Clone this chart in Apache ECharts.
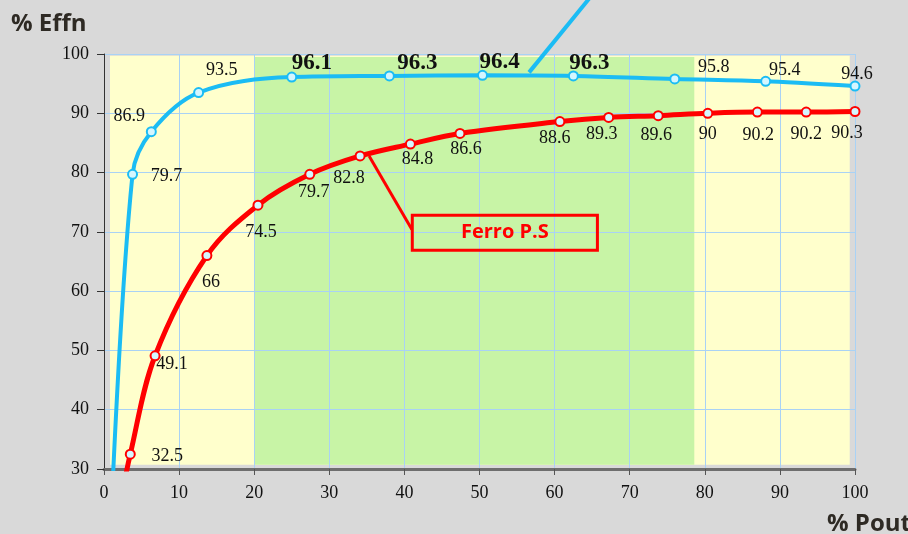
<!DOCTYPE html>
<html>
<head>
<meta charset="utf-8">
<script src="https://cdn.jsdelivr.net/npm/echarts@6/dist/echarts.min.js"></script>
<style>
  html, body { margin: 0; padding: 0; background: #d9d9d9; }
  #chart { width: 908px; height: 534px; }
</style>
</head>
<body>
<div id="chart"></div>
<script>
// blue curve (first point sits below the axis, it only carries the line down)
const blueX = [0.9, 3.8, 6.3, 12.6, 25, 38, 50.4, 62.5, 76, 88.1, 100]
const blueY = [20, 79.7, 86.9, 93.5, 96.1, 96.3, 96.4, 96.3, 95.8, 95.4, 94.6]
const blueBold = [false, false, false, false, true, true, true, true, false, false, false]

// red curve - Ferro P.S
const redX = [2.3, 3.5, 6.8, 13.7, 20.5, 27.4, 34.1, 40.8, 47.4, 60.7, 67.2, 73.8, 80.4, 87, 93.5, 100]
const redY = [25, 32.5, 49.1, 66, 74.5, 79.7, 82.8, 84.8, 86.6, 88.6, 89.3, 89.6, 90, 90.2, 90.2, 90.3]

// background bands [x0, y0, x1, y1]
const yellowBand = [0.8, 30.7, 99.3, 99.7]
const greenBand = [20, 30.7, 78.6, 99.5]

// callouts
const bluePointer = [[56.6, 96.9], [64.7, 109.5]]
const redPointer = [[35.3, 82.8], [41.0, 70.4]]
const redBox = [41.05, 72.8, 65.7, 66.9]
const redBoxText = 'Ferro P.S'

// label offsets (px) relative to each point
const blueOffsets = [[0, 0], [34, 2], [-22, -15], [23, -22], [20, -14], [28, -13], [17, -13], [16, -13], [39, -12], [19, -11], [2, -12]]
const redOffsets = [[0, 0], [37, 2], [17, 9], [4, 27], [3, 27], [4, 18], [-11, 22], [7, 15], [6, 16], [-5, 17], [-7, 17], [-2, 20], [0, 21], [1, 23], [0, 22], [-8, 22]]

function buildData(xs, ys, offsets, bold) {
  return xs.map((x, i) => {
    const item = {
      value: [x, ys[i]],
      label: {
        show: i > 0,
        offset: offsets[i]
      }
    }
    if (i === 0) item.symbol = 'none'
    if (bold && bold[i]) {
      item.label.fontWeight = 'bold'
      item.label.fontSize = 23
    }
    return item
  })
}

const labelBase = {
  show: true,
  position: 'inside',
  align: 'center',
  verticalAlign: 'middle',
  fontFamily: 'Liberation Serif',
  fontSize: 18,
  color: '#111',
  formatter: p => String(p.value[1])
}

const chart = echarts.init(document.getElementById('chart'))
const option = {
  animation: false,
  backgroundColor: '#d9d9d9',
  grid: {
    left: 104,
    right: 53,
    top: 54,
    bottom: 65
  },
  title: [
    {
      text: '% Effn',
      left: 6,
      top: 7,
      textStyle: { fontFamily: 'Open Sans', fontWeight: 'bold', fontSize: 24, color: '#2e2a24' }
    },
    {
      text: '% Pout',
      left: 822,
      top: 507,
      textStyle: { fontFamily: 'Open Sans', fontWeight: 'bold', fontSize: 24, color: '#2e2a24' }
    }
  ],
  xAxis: {
    type: 'value',
    min: 0,
    max: 100,
    interval: 10,
    axisLine: { lineStyle: { color: '#6e6e6e', width: 3 } },
    axisTick: { show: true, length: 6, lineStyle: { color: '#555', width: 1 } },
    axisLabel: { fontFamily: 'Liberation Serif', fontSize: 18, color: '#111', margin: 15 },
    splitLine: { show: true, lineStyle: { color: '#a9d2f5', width: 1 } }
  },
  yAxis: {
    type: 'value',
    min: 30,
    max: 100,
    interval: 10,
    axisLine: { show: true, lineStyle: { color: '#333', width: 1 } },
    axisTick: { show: true, length: 7, lineStyle: { color: '#333', width: 1 } },
    axisLabel: { fontFamily: 'Liberation Serif', fontSize: 18, color: '#111', margin: 15 },
    splitLine: { show: true, lineStyle: { color: '#a9d2f5', width: 1 } }
  },
  series: [
    {
      // background bands, kept under the grid lines
      type: 'line',
      silent: true,
      data: [],
      markArea: {
        silent: true,
        z: -1,
        data: [
          [{ coord: [yellowBand[0], yellowBand[1]], itemStyle: { color: '#ffffcc' } }, { coord: [yellowBand[2], yellowBand[3]] }],
          [{ coord: [greenBand[0], greenBand[1]], itemStyle: { color: '#c8f4a6' } }, { coord: [greenBand[2], greenBand[3]] }]
        ]
      }
    },
    {
      name: 'pointer blue',
      type: 'line',
      silent: true,
      clip: false,
      symbol: 'none',
      lineStyle: { color: '#1bbcf4', width: 4 },
      data: bluePointer
    },
    {
      name: 'pointer red',
      type: 'line',
      silent: true,
      symbol: 'none',
      lineStyle: { color: '#ff0000', width: 3 },
      data: redPointer
    },
    {
      name: 'blue',
      type: 'line',
      smooth: 0.35,
      symbol: 'circle',
      symbolSize: 9,
      lineStyle: { color: '#1bbcf4', width: 4 },
      itemStyle: { color: '#d4f6ff', borderColor: '#1bbcf4', borderWidth: 2 },
      label: labelBase,
      data: buildData(blueX, blueY, blueOffsets, blueBold)
    },
    {
      name: 'Ferro P.S',
      type: 'line',
      smooth: 0.35,
      symbol: 'circle',
      symbolSize: 9,
      lineStyle: { color: '#ff0000', width: 5 },
      itemStyle: { color: '#d4f6ff', borderColor: '#ff0000', borderWidth: 2 },
      label: labelBase,
      data: buildData(redX, redY, redOffsets, null)
    }
  ]
}
chart.setOption(option)

// red callout box, placed through the grid's own scale
const tl = chart.convertToPixel({ gridIndex: 0 }, [redBox[0], redBox[1]])
const br = chart.convertToPixel({ gridIndex: 0 }, [redBox[2], redBox[3]])
chart.setOption({
  graphic: [
    {
      type: 'rect',
      shape: { x: tl[0], y: tl[1], width: br[0] - tl[0], height: br[1] - tl[1] },
      style: { fill: 'transparent', stroke: '#ff0000', lineWidth: 3 },
      z: 10
    },
    {
      type: 'text',
      x: (tl[0] + br[0]) / 2,
      y: (tl[1] + br[1]) / 2,
      style: {
        text: redBoxText,
        fill: '#ff0000',
        font: 'bold 20px "Open Sans"',
        align: 'center',
        verticalAlign: 'middle'
      },
      z: 10
    }
  ]
})
</script>
</body>
</html>
